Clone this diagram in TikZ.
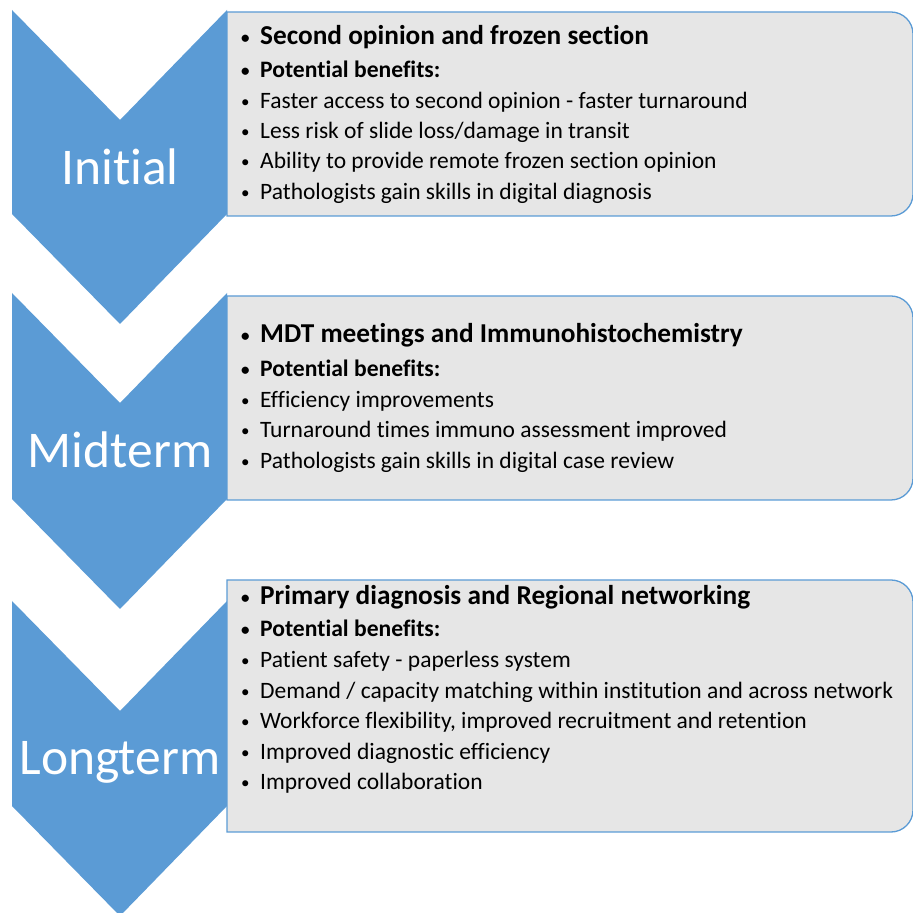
\documentclass[tikz,border=0pt]{standalone}
\usepackage{fontspec}
\setmainfont{Carlito}[Ligatures=NoCommon]
\usetikzlibrary{positioning}

\definecolor{chevblue}{HTML}{5B9BD5}
\definecolor{panelgray}{HTML}{E6E6E6}

\newcommand{\blt}{\makebox[19pt][l]{\raisebox{1pt}{\fontsize{17}{17}\selectfont•}}}

\begin{document}
\begin{tikzpicture}[x=1pt, y=1pt,
    chev/.style={fill=chevblue},
    panel/.style={fill=panelgray, draw=chevblue, line width=1.3pt},
    stage/.style={anchor=base, inner sep=0pt, text=white, font=\fontsize{51.5}{60}\selectfont},
    head/.style={anchor=base west, inner sep=0pt, font=\fontsize{27.3}{30}\selectfont\bfseries},
    sub/.style={anchor=base west, inner sep=0pt, font=\fontsize{23.6}{28}\selectfont\bfseries},
    item/.style={anchor=base west, inner sep=0pt, font=\fontsize{23.5}{28}\selectfont}]
    \useasboundingbox (0,0) rectangle (913,913);

    % chevrons
    \foreach \t/\c in {903/699, 620/414, 312/107}
        \fill[chev] (12,\t) -- (120,\t-110) -- (227,\t) -- (227,\c)
            -- (120,\c-110) -- (12,\c) -- cycle;

    % panels
    \foreach \top/\bot in {901/697, 617/413, 333/81}
        \draw[panel] (227,\bot) -- (227,\top) -- (891,\top)
            arc[start angle=90, end angle=0, radius=22pt] -- (913,\bot+22)
            arc[start angle=0, end angle=-90, radius=22pt] -- cycle;

    \node[stage] (initial) at (120,728) {Initial};
    \node[stage] (midterm) at (120,445) {Midterm};
    \node[stage] (longterm) at (120,138) {Longterm};

    % initial
    \node[head] (h1) at (241,868) {\blt Second opinion and frozen section};
    \node[sub] (p1) at (241,835) {\blt Potential benefits:};
    \foreach \txt [count=\i] in {Faster access to second opinion - faster turnaround,
        Less risk of slide loss/damage in transit,
        Ability to provide remote frozen section opinion,
        Pathologists gain skills in digital diagnosis}
        \node[item] (b1-\i) at (241,835-30.3*\i) {\blt \txt};

    % midterm
    \node[head] (h2) at (241,570) {\blt MDT meetings and Immunohistochemistry};
    \node[sub] (p2) at (241,536) {\blt Potential benefits:};
    \foreach \txt [count=\i] in {Efficiency improvements,
        Turnaround times immuno assessment improved,
        Pathologists gain skills in digital case review}
        \node[item] (b2-\i) at (241,536-30.4*\i) {\blt \txt};

    % longterm
    \node[head] (h3) at (241,308) {\blt Primary diagnosis and Regional networking};
    \node[sub] (p3) at (241,276) {\blt Potential benefits:};
    \foreach \txt [count=\i] in {Patient safety - paperless system,
        Demand / capacity matching within institution and across network,
        {Workforce flexibility, improved recruitment and retention},
        Improved diagnostic efficiency,
        Improved collaboration}
        \node[item] (b3-\i) at (241,276-30.6*\i) {\blt \txt};
\end{tikzpicture}
\end{document}
